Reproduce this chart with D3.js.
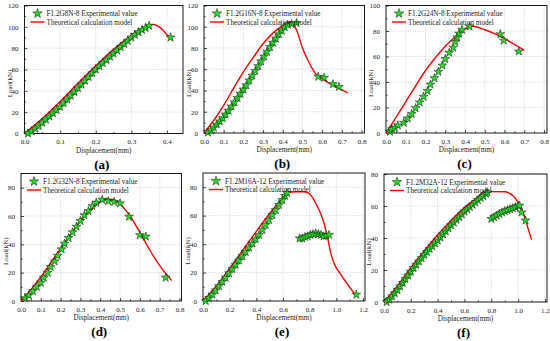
<!DOCTYPE html>
<html>
<head>
<meta charset="utf-8">
<script src="https://cdn.jsdelivr.net/npm/d3@7"></script>
<style>
  html, body { margin: 0; padding: 0; background: #fff; }
  svg { display: block; font-family: "Liberation Serif", "Times New Roman", serif; }
</style>
</head>
<body>
<svg id="chart" width="550" height="341"></svg>
<script>
// ---- data ----
var aExp = [[0.01,0],[0.02,2],[0.03,4.5],[0.04,7],[0.05,10],[0.06,13],[0.07,16],[0.08,19],[0.09,22],[0.10,25],
  [0.11,28.5],[0.12,32],[0.13,35.5],[0.14,39],[0.15,42.5],[0.16,46],[0.17,49.5],[0.18,53],[0.19,56.5],[0.20,60],
  [0.21,63],[0.22,66],[0.23,69],[0.24,72],[0.25,75],[0.26,78],[0.27,81],[0.28,84],[0.29,87],[0.30,90],
  [0.31,92.5],[0.32,95],[0.33,97],[0.34,99],[0.35,101],[0.41,90]];
var aModel = [[0,0],[0.05,14],[0.10,30],[0.15,47],[0.20,63.5],[0.25,79],[0.30,92],[0.33,98.5],[0.35,101.8],
  [0.36,102.3],[0.37,101.5],[0.38,99.5],[0.39,96.5],[0.40,92.5],[0.415,87.5]];

var bExp = [[0.02,0.5],[0.035,2.5],[0.05,5],[0.065,8],[0.08,11],[0.095,14],[0.11,17.5],[0.125,21],[0.14,25],
  [0.155,29],[0.17,33],[0.185,37],[0.20,41],[0.215,45],[0.23,49.5],[0.245,54],[0.26,58.5],[0.275,63],[0.29,67.5],
  [0.305,72],[0.32,76.5],[0.335,81],[0.35,85],[0.365,89],[0.38,93],[0.395,96.5],[0.41,99.5],[0.425,102],
  [0.445,102.5],[0.47,103.5],[0.58,53],[0.61,52],[0.655,46],[0.685,43.5]];
var bModel = [[0,0],[0.05,12],[0.10,26],[0.15,42],[0.20,57.5],[0.25,71],[0.30,84],[0.35,94],[0.40,101],
  [0.425,104],[0.44,104.5],[0.45,103],[0.47,97],[0.50,80],[0.54,64],[0.57,55],[0.60,51],[0.65,45.5],[0.70,40.5],[0.73,38]];

var cExp = [[0.02,1],[0.03,3],[0.045,4],[0.06,6],[0.09,8],[0.11,11.5],[0.13,15],[0.15,19.5],[0.17,24],[0.19,28.5],
  [0.21,33],[0.225,38],[0.245,43],[0.265,48],[0.285,53],[0.30,58],[0.32,63],[0.34,67],[0.35,71.5],[0.36,75],
  [0.37,78],[0.385,81],[0.423,83.5],[0.579,77.5],[0.596,72.5],[0.672,64]];
var cModel = [[0,0],[0.05,12],[0.10,24.5],[0.15,37],[0.20,49],[0.25,59],[0.30,68],[0.35,75.5],[0.40,81.5],
  [0.43,83.8],[0.45,83.5],[0.50,81],[0.55,78],[0.60,74],[0.65,69.5],[0.70,65]];

var dExp = [[0.02,2],[0.04,4],[0.06,7],[0.08,10],[0.10,13],[0.115,16.5],[0.135,20],[0.15,24],[0.17,28],[0.185,32],
  [0.205,36.5],[0.22,40.5],[0.24,44.5],[0.26,48.5],[0.28,52.5],[0.30,56.5],[0.32,60.5],[0.34,63.5],[0.36,67],
  [0.38,69.5],[0.41,71.5],[0.44,70.5],[0.47,70],[0.50,69],[0.545,59.5],[0.60,46.5],[0.63,45.5],[0.73,16.5]];
var dModel = [[0,0],[0.05,8],[0.10,17],[0.15,27],[0.20,37],[0.25,47],[0.30,56.5],[0.35,64],[0.40,70],[0.43,72],
  [0.47,71.5],[0.50,68.5],[0.55,60],[0.60,48.5],[0.65,36],[0.70,25],[0.73,19.5],[0.76,14.5]];

var eExp = [[0.02,0],[0.045,2],[0.07,4.5],[0.095,7.5],[0.12,10.5],[0.145,13.5],[0.17,16.5],[0.195,19.5],[0.22,22.5],
  [0.245,25.5],[0.27,28.5],[0.295,31.5],[0.32,34.5],[0.345,37.5],[0.37,40.5],[0.395,43.5],[0.42,46.5],[0.445,50],
  [0.47,53.5],[0.495,57],[0.52,60.5],[0.545,64],[0.57,67.5],[0.595,71],[0.615,74],[0.63,76],
  [0.725,44],[0.745,44],[0.765,45],[0.785,45.5],[0.805,46.5],[0.825,47],[0.845,47.5],[0.865,47],[0.885,46.5],
  [0.905,45.5],[0.925,46],[0.945,46.5],[1.15,4.5]];
var eModel = [[0,0],[0.10,10.5],[0.20,23],[0.30,36],[0.40,49],[0.50,61.5],[0.60,73],[0.63,76.5],[0.70,76.8],
  [0.75,76.8],[0.79,76],[0.82,73],[0.85,68],[0.88,62],[0.91,54],[0.94,42],[0.96,33],[0.99,25],[1.02,20.5],[1.15,3.5]];

var fExp = [[0.02,0],[0.04,1.5],[0.06,3.5],[0.08,5.5],[0.10,7.5],[0.12,9.8],[0.14,12],[0.16,14.3],[0.18,16.6],[0.20,19],
  [0.22,21.2],[0.24,23.3],[0.26,25.4],[0.28,27.4],[0.30,29.5],[0.32,31.3],[0.34,33.1],[0.36,34.9],[0.38,36.7],[0.40,38.5],
  [0.42,40.4],[0.44,42.3],[0.46,44.2],[0.48,46.1],[0.50,48],[0.52,49.7],[0.54,51.4],[0.56,53.1],[0.58,54.8],[0.60,56.5],
  [0.62,58],[0.64,59.4],[0.66,60.8],[0.68,62.3],[0.70,63.7],[0.72,65],[0.74,66.3],[0.76,67.6],[0.77,68.5],
  [0.80,52],[0.82,53],[0.84,54],[0.86,55],[0.88,56],[0.90,56.8],[0.92,57.4],[0.94,58],[0.96,58.6],[0.98,59.3],
  [1.00,60],[1.01,60.3],[1.026,56],[1.055,51]];
var fModel = [[0,0],[0.10,10],[0.20,21.5],[0.30,32],[0.40,42],[0.50,51],[0.60,59],[0.70,65.5],[0.74,68.5],[0.80,69],
  [0.90,68.9],[0.93,68.2],[0.96,66.5],[0.99,63.5],[1.02,59],[1.04,55],[1.07,47],[1.10,39]];

var specimens = ['F1.2G8N-8', 'F1.2G16N-8', 'F1.2G24N-8', 'F1.2G32N-8', 'F1.2M16A-12', 'F1.2M32A-12'];
var captions = ['(a)', '(b)', '(c)', '(d)', '(e)', '(f)'];
var xMax = [0.445, 0.815, 0.815, 0.81, 1.215, 1.215];
var xStep = [0.1, 0.1, 0.1, 0.1, 0.2, 0.2];
var yMax = [120, 120, 100, 90, 90, 80];
var yTop = [120, 120, 100, 80, 80, 80];   // last labelled y tick
var expSeries = [aExp, bExp, cExp, dExp, eExp, fExp];
var modelSeries = [aModel, bModel, cModel, dModel, eModel, fModel];

// plot boxes [left, top, right, bottom]
var boxes = [
  [24.5, 5.5, 183, 133.5],
  [204, 5.5, 364.5, 133],
  [386, 5.5, 547, 133],
  [21, 173.5, 181.5, 301],
  [203, 173, 365, 301],
  [384, 174, 547, 302]
];

var svg = d3.select('#chart');
var star = d3.symbol().type(d3.symbolStar).size(24);
var legendStar = d3.symbol().type(d3.symbolStar).size(28);

boxes.forEach(function (b, i) {
  var x = d3.scaleLinear().domain([0, xMax[i]]).range([b[0], b[2]]);
  var y = d3.scaleLinear().domain([0, yMax[i]]).range([b[3], b[1]]);
  var g = svg.append('g');

  var xt = d3.range(0, xMax[i] + 1e-9, xStep[i]);
  var yt = d3.range(0, yTop[i] + 1e-9, 20);
  var xm = d3.range(xStep[i] / 2, xMax[i], xStep[i]);
  var ym = d3.range(10, yMax[i], 20);

  // grid
  g.append('g').selectAll('line').data(xt.slice(1)).join('line')
    .attr('x1', function (d) { return x(d); }).attr('x2', function (d) { return x(d); })
    .attr('y1', b[1]).attr('y2', b[3])
    .attr('stroke', '#c4c4c4').attr('stroke-width', 0.6).attr('stroke-dasharray', '1.2,1.2');
  g.append('g').selectAll('line').data(yt.slice(1)).join('line')
    .attr('y1', function (d) { return y(d); }).attr('y2', function (d) { return y(d); })
    .attr('x1', b[0]).attr('x2', b[2])
    .attr('stroke', '#c4c4c4').attr('stroke-width', 0.6).attr('stroke-dasharray', '1.2,1.2');

  // axes with inward ticks
  g.append('g').attr('transform', 'translate(0,' + b[3] + ')')
    .call(d3.axisBottom(x).tickValues(xt).tickSizeInner(-3).tickSizeOuter(0).tickPadding(6)
      .tickFormat(d3.format('.1f')));
  g.append('g').attr('transform', 'translate(0,' + b[3] + ')')
    .call(d3.axisBottom(x).tickValues(xm).tickSize(-1.6).tickFormat(''));
  g.append('g').attr('transform', 'translate(' + b[0] + ',0)')
    .call(d3.axisLeft(y).tickValues(yt).tickSizeInner(-3).tickSizeOuter(0).tickPadding(6));
  g.append('g').attr('transform', 'translate(' + b[0] + ',0)')
    .call(d3.axisLeft(y).tickValues(ym).tickSize(-1.6).tickFormat(''));
  g.selectAll('.domain').remove();
  g.selectAll('.tick line').attr('stroke', '#000').attr('stroke-width', 0.7);
  g.selectAll('.tick text').attr('font-family', '"Liberation Serif", serif').attr('font-size', 7).attr('fill', '#222');

  // frame
  g.append('rect').attr('x', b[0]).attr('y', b[1]).attr('width', b[2] - b[0]).attr('height', b[3] - b[1])
    .attr('fill', 'none').attr('stroke', '#000').attr('stroke-width', 0.9);

  // model curve
  var line = d3.line().curve(d3.curveMonotoneX)
    .x(function (d) { return x(d[0]); }).y(function (d) { return y(d[1]); });
  g.append('path').datum(modelSeries[i]).attr('d', line)
    .attr('fill', 'none').attr('stroke', '#ff0000').attr('stroke-width', 1.4);

  // experimental stars
  g.append('g').selectAll('path').data(expSeries[i]).join('path')
    .attr('d', star)
    .attr('transform', function (d) { return 'translate(' + x(d[0]) + ',' + y(d[1]) + ')'; })
    .attr('fill', '#22e022').attr('stroke', '#111').attr('stroke-width', 0.5);

  // legend
  var lx = b[0] + 13, ly = b[1] + 8;
  g.append('path').attr('d', legendStar).attr('transform', 'translate(' + lx + ',' + ly + ')')
    .attr('fill', '#22e022').attr('stroke', '#111').attr('stroke-width', 0.5);
  g.append('text').attr('x', lx + 9).attr('y', ly + 2.5).attr('font-size', 7.2).attr('fill', '#222')
    .text(specimens[i] + ' Experimental value');
  g.append('line').attr('x1', lx - 7).attr('x2', lx + 7).attr('y1', ly + 8.5).attr('y2', ly + 8.5)
    .attr('stroke', '#ff0000').attr('stroke-width', 1.4);
  g.append('text').attr('x', lx + 9).attr('y', ly + 11).attr('font-size', 7.2).attr('fill', '#222')
    .text('Theoretical calculation model');

  // axis titles
  g.append('text').attr('x', (b[0] + b[2]) / 2).attr('y', b[3] + 19).attr('text-anchor', 'middle')
    .attr('font-size', 7.2).attr('fill', '#222').text('Displacement(mm)');
  var cy = (b[1] + b[3]) / 2 + 14;
  g.append('text').attr('transform', 'translate(' + (b[0] - 13) + ',' + cy + ') rotate(-90)')
    .attr('text-anchor', 'middle').attr('font-size', 7).attr('fill', '#222').text('Load(kN)');

  // caption
  g.append('text').attr('x', (b[0] + b[2]) / 2 - 2).attr('y', b[3] + 35).attr('text-anchor', 'middle')
    .attr('font-size', 13).attr('font-weight', 'bold').attr('fill', '#000').text(captions[i]);
});
</script>
</body>
</html>
